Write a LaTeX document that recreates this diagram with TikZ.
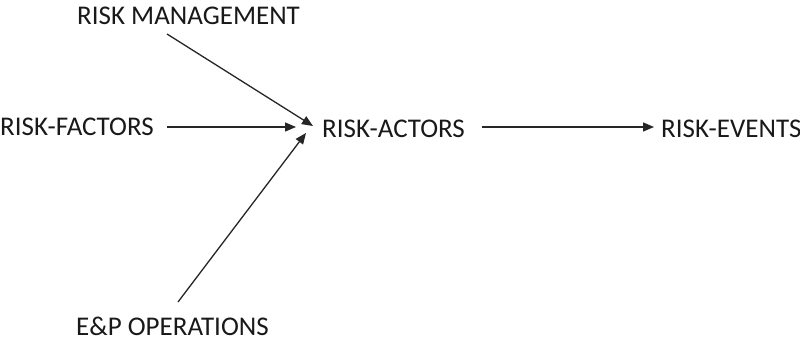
\documentclass[tikz,border=0pt]{standalone}
\usepackage{fontspec}
\setmainfont{Carlito}
\usetikzlibrary{arrows.meta}
\begin{document}
\begin{tikzpicture}[x=1pt,y=-1pt,
  label/.style={anchor=west,inner sep=0pt,font=\fontsize{27}{31}\selectfont,text=black!90},
  link/.style={line width=1.3pt,draw=black!85,-{Triangle[length=11pt,width=9pt]}}]
  \useasboundingbox (0,0) rectangle (800,338);
  \fill[white] (0,0) rectangle (800,338);

  % factor labels
  \node[label] (rm) at (77,16) {RISK MANAGEMENT};
  \node[label] (rf) at (0,127) {RISK-FACTORS};
  \node[label] (ep) at (76,326) {E\&P OPERATIONS};
  \node[label] (ra) at (322,129) {RISK-ACTORS};
  \node[label] (re) at (661,128.5) {RISK-EVENTS};

  % connector end points
  \coordinate (rm-out) at (167,34);
  \coordinate (rm-in) at (313,126);
  \coordinate (rf-out) at (167,127);
  \coordinate (rf-in) at (296,127);
  \coordinate (ep-out) at (178,302);
  \coordinate (ep-in) at (306,133);
  \coordinate (ra-out) at (482,127);
  \coordinate (re-in) at (654,127);

  \draw[link] (rm-out) -- (rm-in);
  \draw[link] (rf-out) -- (rf-in);
  \draw[link] (ep-out) -- (ep-in);
  \draw[link] (ra-out) -- (re-in);
\end{tikzpicture}
\end{document}
